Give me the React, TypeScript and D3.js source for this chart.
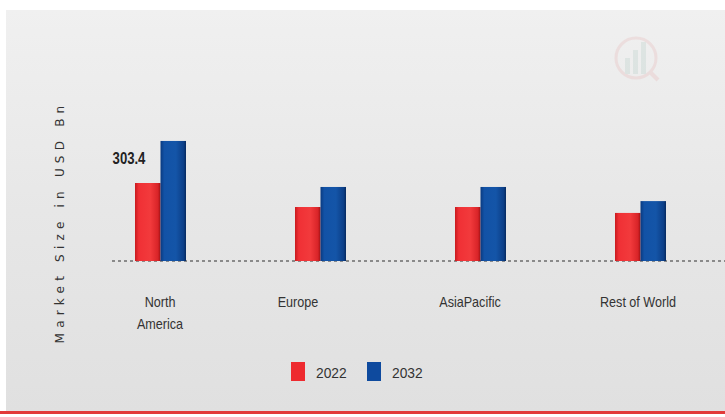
import React from "react";
import * as d3 from "d3";

const categories = ["North America", "Europe", "AsiaPacific", "Rest of World"];
const series = ["2022", "2032"];
const values2022 = [303.4, 210, 210, 187];
const values2032 = [467, 288, 288, 233];
const labelOffsets = [0, -22, -10, -2];

const W = 725;
const H = 417;
const baseY = 261;

export default function App() {
  const x = d3.scaleBand<string>().domain(categories).range([80, 720]);
  const inner = d3.scaleBand<string>().domain(series).range([-25, 26]);
  const y = d3.scaleLinear().domain([0, 500]).range([baseY, baseY - 500 / 3.89]);
  const colors = ["url(#gRed)", "url(#gBlue)"];
  const vals = [values2022, values2032];

  return (
    <svg width={W} height={H} style={{ position: "absolute", left: 0, top: 0 }}>
      <defs>
        <linearGradient id="bg" x1="0" y1="0" x2="0" y2="1">
          <stop offset="0" stopColor="#f0f0f0" />
          <stop offset="0.5" stopColor="#e7e7e7" />
          <stop offset="1" stopColor="#e0e0e0" />
        </linearGradient>
        <linearGradient id="gRed" x1="0" y1="0" x2="1" y2="0">
          <stop offset="0" stopColor="#c81a1e" />
          <stop offset="0.15" stopColor="#f03035" />
          <stop offset="0.6" stopColor="#f23a3c" />
          <stop offset="0.9" stopColor="#d82428" />
          <stop offset="1" stopColor="#a01014" />
        </linearGradient>
        <linearGradient id="gBlue" x1="0" y1="0" x2="1" y2="0">
          <stop offset="0" stopColor="#0a3a80" />
          <stop offset="0.15" stopColor="#1252a6" />
          <stop offset="0.6" stopColor="#1455a8" />
          <stop offset="0.9" stopColor="#0c3f88" />
          <stop offset="1" stopColor="#062a60" />
        </linearGradient>
      </defs>
      <rect x={0} y={0} width={W} height={H} fill="#ffffff" />
      <rect x={6} y={10} width={W - 6} height={402} fill="url(#bg)" />
      <rect x={0} y={411} width={W} height={3} fill="#e23a3a" />

      {/* watermark */}
      <g opacity={0.15}>
        <circle cx={636} cy={58} r={20} fill="none" stroke="#e08080" strokeWidth={3} />
        <rect x={625} y={58} width={5} height={16} fill="#80b0a0" />
        <rect x={633} y={50} width={5} height={24} fill="#80b0a0" />
        <rect x={641} y={42} width={5} height={32} fill="#80b0a0" />
        <line x1={650} y1={72} x2={658} y2={80} stroke="#e08080" strokeWidth={4} />
      </g>

      {/* baseline */}
      <line x1={112} x2={725} y1={baseY} y2={baseY} stroke="#8a8a8a" strokeWidth={2} strokeDasharray="3,3" />

      {categories.map((c, i) => {
        const cx = (x(c) as number) + x.bandwidth() / 2;
        return (
          <g key={c}>
            {series.map((s, j) => {
              const v = vals[j][i];
              const bx = cx + (inner(s) as number);
              return (
                <rect
                  key={s}
                  x={bx}
                  y={y(v)}
                  width={inner.bandwidth()}
                  height={baseY - y(v)}
                  fill={colors[j]}
                />
              );
            })}
          </g>
        );
      })}

      {/* value label */}
      <text
        transform={`translate(${(x(categories[0]) as number) + x.bandwidth() / 2 - 31},${y(values2022[0]) - 19}) scale(0.82,1)`}
        textAnchor="middle"
        fontFamily="'Liberation Sans', Arial, sans-serif"
        fontWeight="bold"
        fontSize={16}
        fill="#222"
      >
        {values2022[0]}
      </text>

      {/* category labels */}
      {categories.map((c, i) => {
        const cx = (x(c) as number) + x.bandwidth() / 2 + labelOffsets[i];
        const lines = c === "North America" ? ["North", "America"] : [c];
        return (
          <text
            key={c}
            transform={`translate(${cx},307) scale(0.9,1)`}
            textAnchor="middle"
            fontFamily="'Liberation Sans', Arial, sans-serif"
            fontSize={14}
            fill="#333"
          >
            {lines.map((l, k) => (
              <tspan key={k} x={0} dy={k === 0 ? 0 : 22}>
                {l}
              </tspan>
            ))}
          </text>
        );
      })}

      {/* y axis title */}
      <text
        transform={`translate(64,${222}) rotate(-90)`}
        textAnchor="middle"
        fontFamily="'DejaVu Sans', sans-serif"
        fontSize={12}
        letterSpacing={5.2}
        fill="#333"
      >
        Market Size in USD Bn
      </text>

      {/* legend */}
      {series.map((s, j) => {
        const lx = 291 + j * 76;
        return (
          <g key={s}>
            <rect x={lx} y={362} width={14} height={19} fill={j === 0 ? "#ee2a2f" : "#0e4a9e"} />
            <text
              transform={`translate(${lx + 25},378) scale(0.92,1)`}
              fontFamily="'Liberation Sans', Arial, sans-serif"
              fontSize={15}
              fill="#333"
            >
              {s}
            </text>
          </g>
        );
      })}
    </svg>
  );
}
